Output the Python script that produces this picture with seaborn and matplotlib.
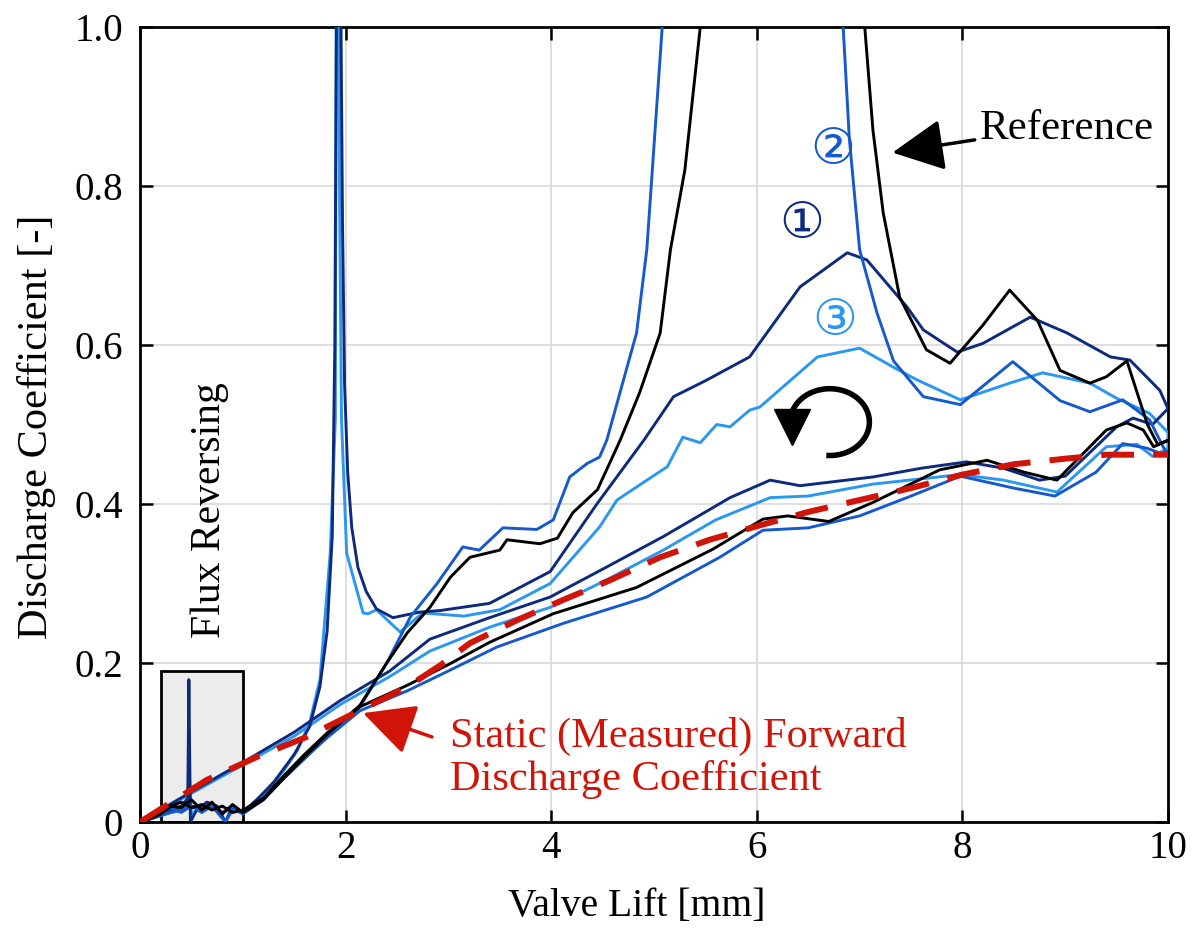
import numpy as np
import pandas as pd
import matplotlib
matplotlib.use('Agg')
import matplotlib.pyplot as plt
import seaborn as sns
from matplotlib.patches import Rectangle

# ---- data (lift in mm, discharge coefficient) ----
# Reference (black): opening branch, then closing branch
ref_open_lift = [0, 0.1, 0.2, 0.3, 0.4, 0.5, 0.6, 0.7, 0.8, 0.9, 1.0, 1.2, 1.36, 1.6, 1.82, 2.14, 2.6, 3.0,
                 3.4, 4.02, 4.83, 5.57, 6.06, 6.3, 6.7, 7.13, 7.78, 8.24, 8.6, 8.92, 9.4, 9.6, 9.76, 9.86, 10.0]
ref_open_cd = [0, 0.005, 0.012, 0.02, 0.025, 0.018, 0.022, 0.015, 0.02, 0.012, 0.015, 0.03, 0.053, 0.085,
               0.112, 0.145, 0.172, 0.198, 0.226, 0.262, 0.295, 0.343, 0.381, 0.385, 0.378, 0.402, 0.443,
               0.455, 0.44, 0.43, 0.493, 0.502, 0.493, 0.472, 0.48]
ref_close_lift = [10.0, 9.9, 9.8, 9.6, 9.4, 9.24, 8.95, 8.73, 8.46, 8.2, 7.88, 7.65, 7.39, 7.23, 7.13, 7.05,
                  7.0, 5.5, 5.45, 5.3, 5.16, 5.06, 4.86, 4.67, 4.45, 4.21, 4.06, 3.89, 3.57, 3.5, 3.21, 3.02,
                  2.82, 2.6, 2.4, 2.14, 1.82, 1.6, 1.36, 1.2, 1.0, 0.9, 0.8, 0.7, 0.6, 0.5, 0.4, 0.3, 0.2,
                  0.1, 0.0]
ref_close_cd = [0.48, 0.475, 0.5, 0.58, 0.56, 0.552, 0.568, 0.631, 0.669, 0.625, 0.577, 0.594, 0.66,
                0.766, 0.87, 1.0, 1.6, 1.6, 1.0, 0.82, 0.72, 0.615, 0.54, 0.48, 0.418, 0.389, 0.357, 0.35,
                0.355, 0.342, 0.333, 0.308, 0.27, 0.238, 0.2, 0.147, 0.11, 0.082, 0.05, 0.028, 0.012, 0.022,
                0.01, 0.025, 0.015, 0.028, 0.018, 0.02, 0.01, 0.004, 0.0]

# Case 1 (navy)
c1_open_lift = [0, 0.5, 1.0, 1.5, 1.95, 2.43, 2.82, 3.4, 3.99, 4.5, 5.09, 5.74, 6.13, 6.42, 7.13, 7.6,
                8.04, 8.4, 8.75, 9.0, 9.5, 9.66, 9.85, 10.0]
c1_open_cd = [0, 0.038, 0.075, 0.113, 0.153, 0.19, 0.23, 0.257, 0.283, 0.318, 0.359, 0.408, 0.43, 0.423,
              0.434, 0.445, 0.453, 0.445, 0.43, 0.435, 0.497, 0.508, 0.5, 0.52]
c1_close_lift = [10.0, 9.92, 9.63, 9.44, 9.02, 8.66, 8.2, 7.95, 7.62, 7.46, 7.07, 6.88, 6.42, 5.93, 5.5,
                 5.19, 4.9, 4.45, 3.99, 3.4, 2.92, 2.72, 2.46, 2.3, 2.2, 2.12, 2.06, 2.02, 1.99, 1.97, 1.955,
                 1.94, 1.925, 1.91, 1.895, 1.87, 1.82, 1.75, 1.65, 1.5, 1.3, 1.15, 1.0, 0.9, 0.83, 0.75,
                 0.65, 0.55, 0.49, 0.475, 0.465, 0.4, 0.3, 0.2, 0.1, 0.0]
c1_close_cd = [0.52, 0.543, 0.581, 0.585, 0.615, 0.635, 0.602, 0.591, 0.619, 0.648, 0.707, 0.716, 0.673,
               0.585, 0.555, 0.535, 0.48, 0.401, 0.315, 0.275, 0.266, 0.264, 0.257, 0.268, 0.29, 0.32,
               0.37, 0.44, 0.55, 0.75, 1.0, 1.6, 1.6, 1.0, 0.6, 0.36, 0.24, 0.17, 0.12, 0.085, 0.05, 0.03,
               0.012, 0.02, 0.0, 0.02, 0.025, 0.015, 0.0, 0.179, 0.03, 0.02, 0.015, 0.01, 0.005, 0.0]

# Case 2 (medium blue)
c2_open_lift = [0, 0.1, 0.2, 0.3, 0.4, 0.5, 0.6, 0.7, 0.8, 0.9, 1.0, 1.2, 1.4, 1.6, 1.82, 2.14, 2.6, 3.0,
                3.47, 4.12, 4.93, 5.64, 6.06, 6.5, 7.0, 7.5, 7.98, 8.5, 8.9, 9.3, 9.56, 9.8, 10.0]
c2_open_cd = [0, 0.004, 0.01, 0.018, 0.012, 0.02, 0.015, 0.022, 0.012, 0.018, 0.01, 0.028, 0.055, 0.08,
              0.106, 0.14, 0.165, 0.19, 0.22, 0.25, 0.283, 0.333, 0.367, 0.37, 0.385, 0.41, 0.435, 0.42,
              0.41, 0.44, 0.476, 0.47, 0.46]
c2_close_lift = [10.0, 9.82, 9.56, 9.24, 8.95, 8.49, 7.98, 7.62, 7.33, 7.17, 7.0, 6.9, 6.84, 6.8, 5.15,
                 5.08, 4.93, 4.83, 4.54, 4.47, 4.35, 4.18, 4.02, 3.86, 3.53, 3.3, 3.14, 2.89, 2.63, 2.4,
                 2.14, 1.82, 1.6, 1.36, 1.2, 1.0, 0.9, 0.83, 0.7, 0.6, 0.5, 0.4, 0.3, 0.2, 0.1, 0.0]
c2_close_cd = [0.46, 0.506, 0.531, 0.516, 0.53, 0.579, 0.525, 0.535, 0.58, 0.64, 0.72, 0.86, 1.0, 1.6,
               1.6, 1.0, 0.72, 0.615, 0.48, 0.459, 0.451, 0.434, 0.38, 0.368, 0.37, 0.342, 0.346, 0.3,
               0.258, 0.2, 0.145, 0.11, 0.08, 0.05, 0.03, 0.012, 0.015, 0.0, 0.02, 0.012, 0.02, 0.015,
               0.012, 0.008, 0.004, 0.0]

# Case 3 (light blue)
c3_open_lift = [0, 0.5, 1.0, 1.5, 1.95, 2.43, 2.82, 3.4, 3.99, 4.5, 5.09, 5.6, 6.13, 6.5, 7.13, 7.98,
                8.4, 8.92, 9.4, 9.7, 9.85, 10.0]
c3_open_cd = [0, 0.036, 0.072, 0.108, 0.148, 0.183, 0.215, 0.245, 0.27, 0.302, 0.342, 0.38, 0.408, 0.41,
              0.425, 0.437, 0.43, 0.415, 0.472, 0.475, 0.46, 0.47]
c3_close_lift = [10.0, 9.82, 9.5, 9.24, 8.78, 8.46, 7.98, 7.56, 7.33, 7.0, 6.59, 6.03, 5.93, 5.74, 5.61,
                 5.45, 5.28, 5.13, 4.64, 4.47, 3.99, 3.5, 3.15, 2.75, 2.53, 2.3, 2.22, 2.17, 2.01, 1.96,
                 1.94, 1.93, 1.92, 1.905, 1.9, 1.85, 1.75, 1.65, 1.53, 1.4, 1.2, 1.0, 0.9, 0.8, 0.7, 0.6,
                 0.5, 0.475, 0.46, 0.4, 0.3, 0.2, 0.1, 0.0]
c3_close_cd = [0.49, 0.514, 0.533, 0.552, 0.565, 0.552, 0.531, 0.556, 0.572, 0.596, 0.585, 0.522, 0.518,
               0.497, 0.5, 0.477, 0.484, 0.447, 0.405, 0.371, 0.3, 0.267, 0.259, 0.263, 0.239, 0.267,
               0.262, 0.263, 0.338, 0.506, 0.8, 1.6, 1.6, 0.8, 0.506, 0.338, 0.179, 0.125, 0.09, 0.065,
               0.035, 0.012, 0.02, 0.012, 0.022, 0.018, 0.01, 0.07, 0.02, 0.015, 0.012, 0.008, 0.004, 0.0]

# Static (measured) forward discharge coefficient
static_lift = [0, 0.65, 1.14, 1.62, 2.01, 2.6, 2.92, 3.21, 3.67, 4.11, 4.57, 5.06, 5.54, 6.0, 6.5, 7.0,
               7.5, 8.0, 8.5, 9.0, 9.4, 10.0]
static_cd = [0, 0.053, 0.082, 0.107, 0.132, 0.17, 0.197, 0.225, 0.254, 0.279, 0.304, 0.333, 0.355, 0.372,
             0.39, 0.405, 0.42, 0.437, 0.45, 0.457, 0.462, 0.462]

x_ticks = [0, 2, 4, 6, 8, 10]
x_tick_labels = ['0', '2', '4', '6', '8', '10']
y_ticks = [0, 0.2, 0.4, 0.6, 0.8, 1.0]
y_tick_labels = ['0', '0.2', '0.4', '0.6', '0.8', '1.0']

col_ref = '#000000'
col_1 = '#0d2a7c'
col_2 = '#1659cc'
col_3 = '#2a97f0'
col_red = '#d01408'


def loop(open_x, open_y, close_x, close_y):
    return pd.DataFrame({'lift': list(open_x) + list(close_x), 'cd': list(open_y) + list(close_y)})


sns.set_theme(style='white')
plt.rcParams['font.family'] = ['Liberation Serif', 'DejaVu Sans']

fig = plt.figure(figsize=(12.02, 9.43), dpi=100)
ax = fig.add_axes([0.1165, 0.1283, 0.8552, 0.8431])

# flux reversing box
ax.add_patch(Rectangle((0.2, 0), 0.8, 0.19, facecolor='#ececec', edgecolor='black', lw=2, zorder=1))

for df_, c in [(loop(c3_open_lift, c3_open_cd, c3_close_lift, c3_close_cd), col_3),
               (loop(c1_open_lift, c1_open_cd, c1_close_lift, c1_close_cd), col_1),
               (loop(c2_open_lift, c2_open_cd, c2_close_lift, c2_close_cd), col_2),
               (loop(ref_open_lift, ref_open_cd, ref_close_lift, ref_close_cd), col_ref)]:
    sns.lineplot(data=df_, x='lift', y='cd', sort=False, estimator=None, color=c, lw=2.1, ax=ax, zorder=3)

sns.lineplot(x=static_lift, y=static_cd, sort=False, estimator=None, color=col_red, lw=4.3,
             linestyle=(0, (5.5, 3.2)), ax=ax, zorder=4)

ax.set_xlim(0, 10)
ax.set_ylim(0, 1.0)
ax.set_xticks(x_ticks)
ax.set_xticklabels(x_tick_labels)
ax.set_yticks(y_ticks)
ax.set_yticklabels(y_tick_labels)
ax.grid(True, color='#d9d9d9', lw=1.2)
ax.tick_params(direction='in', length=9, width=1.8, labelsize=28, top=True, right=True,
               bottom=True, left=True, color='black', labelcolor='black')
ax.tick_params(axis='x', pad=6)
ax.tick_params(axis='y', pad=12)
for s in ax.spines.values():
    s.set_visible(True)
    s.set_color('black')
    s.set_linewidth(2)

ax.set_xlabel('Valve Lift [mm]', fontsize=28.5, color='black')
ax.set_ylabel('Discharge Coefficient [-]', fontsize=30.5, color='black')
ax.xaxis.set_label_coords(0.4835, -0.083)
ax.yaxis.set_label_coords(-0.082, 0.497)

# annotations
ax.text(0.68, 0.392, 'Flux Reversing', rotation=90, ha='center', va='center', fontsize=30, color='black')
ax.text(8.17, 0.872, 'Reference', ha='left', va='center', fontsize=31, color='black')
ax.annotate('', xy=(7.32, 0.842), xytext=(8.12, 0.858),
            arrowprops=dict(arrowstyle='-|>,head_length=1.0,head_width=0.5', color='black', lw=2.5,
                            mutation_scale=32, shrinkA=0, shrinkB=0))
ax.text(6.74, 0.843, '\u2461', ha='center', va='center', fontsize=36, color=col_2)
ax.text(6.44, 0.75, '\u2460', ha='center', va='center', fontsize=36, color=col_1)
ax.text(6.76, 0.628, '\u2462', ha='center', va='center', fontsize=36, color=col_3)

ax.text(3.02, 0.107, 'Static (Measured) Forward', ha='left', va='center', fontsize=30.5, color=col_red)
ax.text(3.02, 0.053, 'Discharge Coefficient', ha='left', va='center', fontsize=30.5, color=col_red)
ax.annotate('', xy=(2.17, 0.137), xytext=(2.84, 0.107),
            arrowprops=dict(arrowstyle='-|>,head_length=1.0,head_width=0.5', color=col_red, lw=2.5,
                            mutation_scale=32, shrinkA=0, shrinkB=0))

# rotation direction arrow (circle drawn in pixel-like proportions)
t = np.radians(np.linspace(-95, 168, 120))
ax.plot(6.71 + 0.385 * np.cos(t), 0.503 + 0.042 * np.sin(t), color='black', lw=4, zorder=5,
        solid_capstyle='butt')
ax.plot([6.34], [0.497], marker='v', markersize=26, color='black', zorder=5)

fig.savefig('out.png', dpi=100)
